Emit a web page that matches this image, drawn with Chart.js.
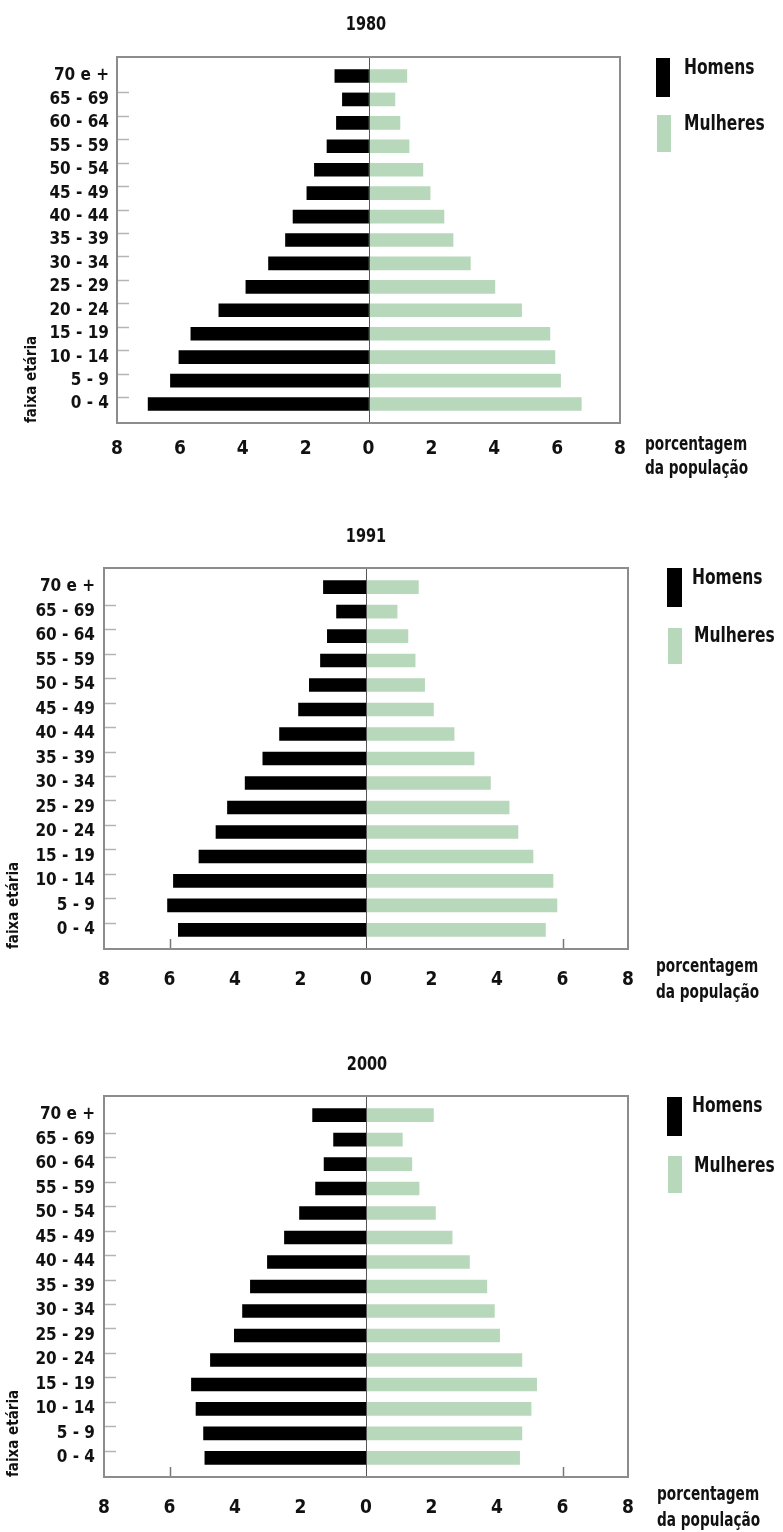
<!DOCTYPE html>
<html>
<head>
<meta charset="utf-8">
<script src="https://cdn.jsdelivr.net/npm/chart.js@4.4.1/dist/chart.umd.min.js"></script>
<style>
  body { margin: 0; background: #fff; }
  #page { position: relative; width: 783px; height: 1532px; overflow: hidden;
    font-family: "Liberation Sans Narrow", "DejaVu Sans Condensed", "Arial Narrow", sans-serif;
    font-weight: bold; color: #111; }
  canvas { position: absolute; left: 0; }
  .txt { position: absolute; white-space: nowrap; transform-origin: left top; }
  .title { font-size: 19px; line-height: 20px; width: 100px; text-align: center; transform: scaleX(0.85); transform-origin: center top; }
  .leg { font-size: 21px; line-height: 22px; transform: scaleX(0.82); }
  .cap { font-size: 19px; transform: scaleX(0.8); }
  .sw { position: absolute; }
</style>
</head>
<body>
<div id="page">
  <canvas id="c1980" width="783" height="480" style="top:0px"></canvas>
  <canvas id="c1991" width="783" height="500" style="top:520px"></canvas>
  <canvas id="c2000" width="783" height="502" style="top:1030px"></canvas>

  <div class="txt title" style="left:316px;top:13px">1980</div>
  <div class="sw" style="left:656px;top:58px;width:14px;height:39px;background:#000"></div>
  <div class="txt leg" style="left:684px;top:56px">Homens</div>
  <div class="sw" style="left:657px;top:115px;width:14px;height:37px;background:#b8d8bc"></div>
  <div class="txt leg" style="left:684px;top:112px">Mulheres</div>
  <div class="txt cap" style="left:645px;top:431px;line-height:24px">porcentagem<br>da população</div>

  <div class="txt title" style="left:316px;top:525px">1991</div>
  <div class="sw" style="left:667px;top:568px;width:15px;height:39px;background:#000"></div>
  <div class="txt leg" style="left:692px;top:566px">Homens</div>
  <div class="sw" style="left:668px;top:628px;width:14px;height:36px;background:#b8d8bc"></div>
  <div class="txt leg" style="left:694px;top:624px">Mulheres</div>
  <div class="txt cap" style="left:656px;top:952px;line-height:26px">porcentagem<br>da população</div>

  <div class="txt title" style="left:317px;top:1053px">2000</div>
  <div class="sw" style="left:667px;top:1097px;width:15px;height:39px;background:#000"></div>
  <div class="txt leg" style="left:692px;top:1094px">Homens</div>
  <div class="sw" style="left:668px;top:1156px;width:14px;height:37px;background:#b8d8bc"></div>
  <div class="txt leg" style="left:694px;top:1154px">Mulheres</div>
  <div class="txt cap" style="left:657px;top:1480px;line-height:26px">porcentagem<br>da população</div>
</div>

<script>
// faixas etárias, da base para o topo
const ageGroups = ['0 - 4', '5 - 9', '10 - 14', '15 - 19', '20 - 24', '25 - 29', '30 - 34',
  '35 - 39', '40 - 44', '45 - 49', '50 - 54', '55 - 59', '60 - 64', '65 - 69', '70 e +'];

const xTicks = [-8, -6, -4, -2, 0, 2, 4, 6, 8];

// % da população
const homens1980   = [7.01, 6.30, 6.03, 5.65, 4.76, 3.90, 3.18, 2.64, 2.40, 1.96, 1.72, 1.32, 1.02, 0.83, 1.07];
const mulheres1980 = [6.77, 6.11, 5.93, 5.77, 4.87, 4.02, 3.24, 2.69, 2.40, 1.96, 1.73, 1.29, 1.00, 0.84, 1.22];

const homens1991   = [5.73, 6.06, 5.88, 5.10, 4.58, 4.23, 3.69, 3.15, 2.64, 2.06, 1.73, 1.39, 1.18, 0.90, 1.30];
const mulheres1991 = [5.48, 5.83, 5.71, 5.10, 4.64, 4.37, 3.80, 3.30, 2.69, 2.06, 1.79, 1.50, 1.28, 0.95, 1.60];

const homens2000   = [4.92, 4.96, 5.19, 5.33, 4.75, 4.02, 3.77, 3.53, 3.01, 2.49, 2.03, 1.54, 1.28, 0.99, 1.63];
const mulheres2000 = [4.69, 4.76, 5.04, 5.21, 4.76, 4.08, 3.92, 3.69, 3.16, 2.63, 2.12, 1.62, 1.40, 1.11, 2.06];

const FONT = '"Liberation Sans Narrow", "DejaVu Sans Condensed", "Arial Narrow", sans-serif';

// moldura, linha do zero e pequenas marcas internas
const framePlugin = {
  id: 'frame',
  afterDatasetsDraw(chart, args, opts) {
    const { ctx, chartArea: a, scales: { x, y } } = chart;
    ctx.save();
    ctx.strokeStyle = '#b4b4b4';
    ctx.lineWidth = 1.5;
    for (let i = 0; i < ageGroups.length - 1; i++) {
      const py = Math.round(y.getPixelForValue(i) - 7) + 0.5;
      ctx.beginPath();
      ctx.moveTo(a.left, py);
      ctx.lineTo(a.left + 12, py);
      ctx.stroke();
    }
    (opts.marks || []).forEach((v) => {
      const px = Math.round(x.getPixelForValue(v)) + 0.5;
      ctx.strokeStyle = '#777';
      ctx.beginPath();
      ctx.moveTo(px, a.bottom);
      ctx.lineTo(px, a.bottom - 10);
      ctx.stroke();
    });
    const zx = Math.round(x.getPixelForValue(0)) + 0.5;
    ctx.strokeStyle = '#555';
    ctx.lineWidth = 1;
    ctx.beginPath();
    ctx.moveTo(zx, a.top);
    ctx.lineTo(zx, a.bottom);
    ctx.stroke();
    ctx.strokeStyle = '#8c8c8c';
    ctx.lineWidth = 2;
    ctx.strokeRect(a.left, a.top, a.right - a.left, a.bottom - a.top);
    ctx.restore();
  }
};

function pyramid(id, homens, mulheres, g) {
  const toPoints = (vals, sign) => vals.map((v, i) => ({ x: sign * v, y: i }));
  return new Chart(document.getElementById(id), {
    type: 'bar',
    data: {
      datasets: [
        { label: 'Homens', data: toPoints(homens, -1), backgroundColor: '#000', barThickness: 13 },
        { label: 'Mulheres', data: toPoints(mulheres, 1), backgroundColor: '#b8d8bc', barThickness: 13 },
      ],
    },
    options: {
      indexAxis: 'y',
      responsive: false,
      animation: false,
      layout: { padding: { top: g.top, right: g.right, left: 0, bottom: 0 } },
      plugins: {
        legend: { display: false },
        tooltip: { enabled: false },
        frame: { marks: g.marks },
      },
      scales: {
        x: {
          type: 'linear',
          min: -8,
          max: 8,
          stacked: true,
          grid: { display: false },
          border: { display: false },
          afterBuildTicks: (s) => { s.ticks = xTicks.map((v) => ({ value: v })); },
          afterFit: (s) => { s.height = g.axisH; },
          ticks: {
            autoSkip: false,
            maxRotation: 0,
            padding: g.xPad,
            color: '#111',
            font: { family: FONT, size: 19, weight: 'bold' },
            callback: (v) => Math.abs(v),
          },
        },
        y: {
          type: 'linear',
          stacked: true,
          min: -g.pad,
          max: ageGroups.length - 1 + g.pad,
          grid: { display: false },
          border: { display: false },
          afterBuildTicks: (s) => { s.ticks = ageGroups.map((l, i) => ({ value: i })); },
          afterFit: (s) => { s.width = g.left; },
          ticks: {
            autoSkip: false,
            padding: g.yPad,
            color: '#111',
            font: { family: FONT, size: 17, weight: 'bold' },
            callback: (v) => ageGroups[v],
          },
          title: {
            display: true,
            text: 'faixa etária',
            align: 'start',
            color: '#111',
            padding: { top: g.titleX, bottom: 0 },
            font: { family: FONT, size: 15, weight: 'bold' },
          },
        },
      },
    },
    plugins: [framePlugin],
  });
}

pyramid('c1980', homens1980, mulheres1980,
  { top: 57, right: 163, left: 117, axisH: 57, pad: 0.29, xPad: 7, yPad: 0, titleX: 23, marks: [] });
pyramid('c1991', homens1991, mulheres1991,
  { top: 48, right: 155, left: 104, axisH: 71, pad: 0.26, xPad: 12, yPad: 1, titleX: 5, marks: [-6, 6] });
pyramid('c2000', homens2000, mulheres2000,
  { top: 66, right: 155, left: 104, axisH: 55, pad: 0.26, xPad: 12, yPad: 1, titleX: 5, marks: [-6, 6] });
</script>
</body>
</html>
